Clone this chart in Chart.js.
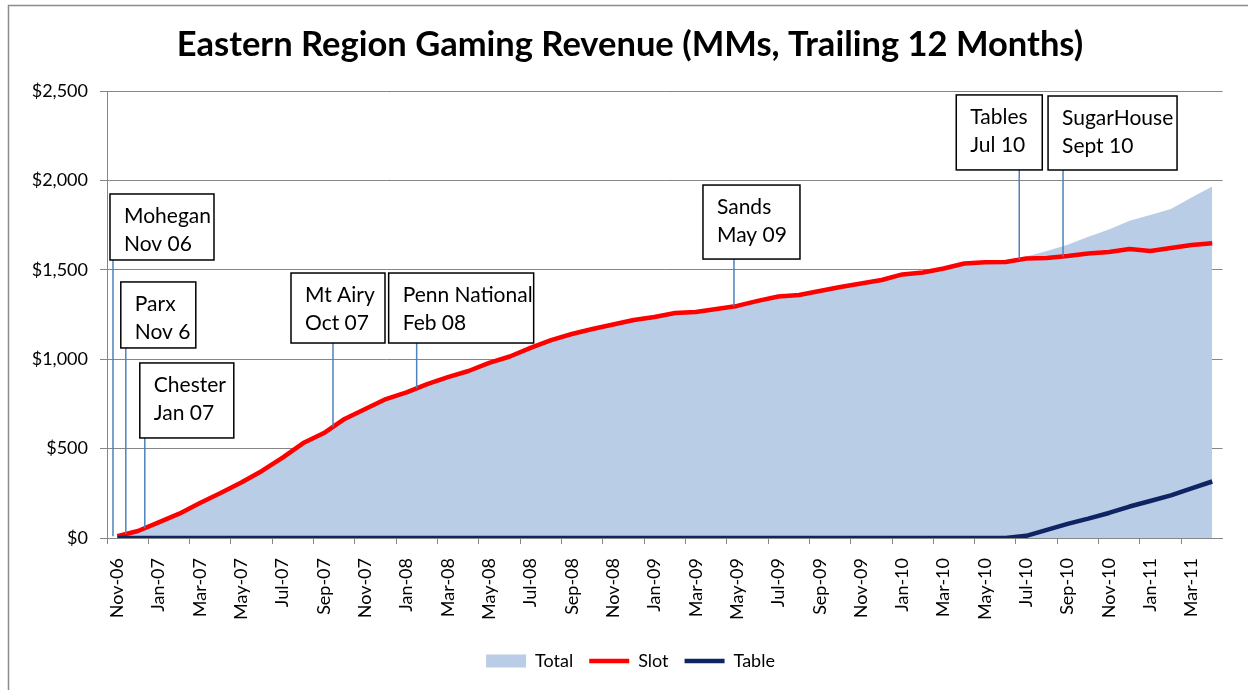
<!DOCTYPE html>
<html>
<head>
<meta charset="utf-8">
<title>Eastern Region Gaming Revenue</title>
<script src="https://cdn.jsdelivr.net/npm/chart.js@4.4.1/dist/chart.umd.min.js"></script>
<style>
  html, body { margin: 0; padding: 0; background: #fff; }
  canvas { display: block; }
</style>
</head>
<body>
<canvas id="chart" width="1248" height="690"></canvas>
<script>
// Eastern region gaming revenue, trailing 12 months ($MM)

const TITLE = 'Eastern Region Gaming Revenue (MMs, Trailing 12 Months)';

const months = [
  'Nov-06', 'Dec-06',
  'Jan-07', 'Feb-07', 'Mar-07', 'Apr-07', 'May-07', 'Jun-07', 'Jul-07', 'Aug-07', 'Sep-07', 'Oct-07', 'Nov-07', 'Dec-07',
  'Jan-08', 'Feb-08', 'Mar-08', 'Apr-08', 'May-08', 'Jun-08', 'Jul-08', 'Aug-08', 'Sep-08', 'Oct-08', 'Nov-08', 'Dec-08',
  'Jan-09', 'Feb-09', 'Mar-09', 'Apr-09', 'May-09', 'Jun-09', 'Jul-09', 'Aug-09', 'Sep-09', 'Oct-09', 'Nov-09', 'Dec-09',
  'Jan-10', 'Feb-10', 'Mar-10', 'Apr-10', 'May-10', 'Jun-10', 'Jul-10', 'Aug-10', 'Sep-10', 'Oct-10', 'Nov-10', 'Dec-10',
  'Jan-11', 'Feb-11', 'Mar-11', 'Apr-11'
];

const slot = [
  10, 39,
  87, 136, 196, 252, 310, 375, 450, 531, 587, 666, 721, 777,
  814, 861, 900, 934, 979, 1015, 1063, 1107, 1141, 1169, 1194, 1219,
  1236, 1258, 1264, 1281, 1298, 1326, 1351, 1359, 1381, 1404, 1423, 1443,
  1474, 1485, 1507, 1535, 1542, 1544, 1563, 1566, 1577, 1591, 1600, 1616,
  1605, 1622, 1639, 1648
];

const table = [
  0, 0,
  0, 0, 0, 0, 0, 0, 0, 0, 0, 0, 0, 0,
  0, 0, 0, 0, 0, 0, 0, 0, 0, 0, 0, 0,
  0, 0, 0, 0, 0, 0, 0, 0, 0, 0, 0, 0,
  0, 0, 0, 0, 0, 0, 12, 45, 79, 108, 140, 176,
  207, 238, 277, 316
];

const total = [
  10, 39,
  87, 136, 196, 252, 310, 375, 450, 531, 587, 666, 721, 777,
  814, 861, 900, 934, 979, 1015, 1063, 1107, 1141, 1169, 1194, 1219,
  1236, 1258, 1264, 1281, 1298, 1326, 1351, 1359, 1381, 1404, 1423, 1443,
  1474, 1485, 1507, 1535, 1542, 1544, 1575, 1605, 1640, 1685, 1726, 1775,
  1806, 1840, 1905, 1966
];

// Openings: position on the month axis, box top in $MM
const openings = [
  { text: ['Mohegan', 'Nov 06'], at: -0.21, top: 1924, dx: -3, w: 104, h: 66 },
  { text: ['Parx', 'Nov 6'], at: 0.41, top: 1432, dx: -5, w: 75, h: 66 },
  { text: ['Chester', 'Jan 07'], at: 1.33, top: 979, dx: -5, w: 94, h: 75 },
  { text: ['Mt Airy', 'Oct 07'], at: 10.44, top: 1482, dx: -42, w: 94, h: 70 },
  { text: ['Penn National', 'Feb 08'], at: 14.49, top: 1482, dx: -28, w: 145, h: 70 },
  { text: ['Sands', 'May 09'], at: 29.85, top: 1974, dx: -31, w: 97, h: 74 },
  { text: ['Tables', 'Jul 10'], at: 43.66, top: 2478, dx: -63, w: 86, h: 75 },
  { text: ['SugarHouse', 'Sept 10'], at: 45.78, top: 2472, dx: -15, w: 129, h: 74 }
];

const FONT = 'Lato, "Open Sans", sans-serif';
const GRID = '#868686';

function slotAt(pos) {
  const i = Math.max(0, Math.min(slot.length - 1, pos));
  const lo = Math.floor(i);
  const hi = Math.min(slot.length - 1, lo + 1);
  return slot[lo] + (slot[hi] - slot[lo]) * (i - lo);
}

// Outer frame and title, placed like the spreadsheet chart
const framePlugin = {
  id: 'frame',
  beforeDraw(chart) {
    const ctx = chart.ctx;
    ctx.save();
    ctx.fillStyle = '#fff';
    ctx.fillRect(0, 0, chart.width, chart.height);
    ctx.strokeStyle = '#8c8c8c';
    ctx.lineWidth = 1.5;
    ctx.strokeRect(8.5, 5.5, chart.width + 20, chart.height + 20);
    ctx.fillStyle = '#000';
    ctx.font = 'bold 34.5px ' + FONT;
    ctx.textAlign = 'center';
    ctx.textBaseline = 'middle';
    ctx.fillText(TITLE, 630, 45);
    ctx.restore();
  },
  afterLayout(chart) {
    // legend sits centred under the whole frame, not the padded box
    chart.legend.left += 17;
    chart.legend.right += 17;
  }
};

// Callout boxes with leader lines down to the slot line
const calloutPlugin = {
  id: 'callouts',
  afterDatasetsDraw(chart) {
    const ctx = chart.ctx;
    const x = chart.scales.x;
    const y = chart.scales.y;
    ctx.save();
    openings.forEach(o => {
      const px = x.getPixelForValue(o.at);
      const boxTop = y.getPixelForValue(o.top);
      const boxLeft = px + o.dx;
      const endY = y.getPixelForValue(slotAt(o.at));

      ctx.strokeStyle = '#4f81bd';
      ctx.lineWidth = 1.5;
      ctx.beginPath();
      ctx.moveTo(px, boxTop + o.h);
      ctx.lineTo(px, endY);
      ctx.stroke();

      ctx.fillStyle = '#fff';
      ctx.fillRect(boxLeft, boxTop, o.w, o.h);
      ctx.strokeStyle = '#000';
      ctx.lineWidth = 1.5;
      ctx.strokeRect(boxLeft, boxTop, o.w, o.h);

      ctx.fillStyle = '#000';
      ctx.font = '21px ' + FONT;
      ctx.textAlign = 'left';
      ctx.textBaseline = 'middle';
      o.text.forEach((line, k) => {
        ctx.fillText(line, boxLeft + 14, boxTop + 22 + k * 28);
      });
    });
    ctx.restore();
  }
};

Chart.defaults.font.family = FONT;
Chart.defaults.color = '#000';

new Chart(document.getElementById('chart'), {
  type: 'line',
  data: {
    labels: months,
    datasets: [
      {
        label: 'Total',
        data: total,
        fill: 'origin',
        backgroundColor: '#bacde6',
        borderColor: '#bacde6',
        borderWidth: 0,
        pointRadius: 0,
        pointStyle: 'rect',
        tension: 0,
        order: 3
      },
      {
        label: 'Slot',
        data: slot,
        fill: false,
        borderColor: '#ff0000',
        backgroundColor: '#ff0000',
        borderWidth: 4.5,
        borderJoinStyle: 'round',
        pointRadius: 0,
        pointStyle: 'line',
        tension: 0,
        order: 2
      },
      {
        label: 'Table',
        data: table,
        fill: false,
        borderColor: '#0f2462',
        backgroundColor: '#0f2462',
        borderWidth: 4.5,
        borderJoinStyle: 'round',
        pointRadius: 0,
        pointStyle: 'line',
        tension: 0,
        order: 1
      }
    ]
  },
  options: {
    responsive: false,
    animation: false,
    layout: { padding: { left: 0, right: 21, top: 91, bottom: 10 } },
    plugins: {
      title: { display: false },
      legend: {
        position: 'bottom',
        labels: {
          usePointStyle: true,
          pointStyleWidth: 40,
          boxHeight: 13,
          padding: 16,
          color: '#000',
          font: { size: 18 },
          sort: (a, b) => a.datasetIndex - b.datasetIndex
        }
      },
      tooltip: { enabled: false }
    },
    scales: {
      x: {
        offset: true,
        afterFit(scale) { scale.height = 98; },
        border: { color: GRID, width: 1 },
        grid: {
          offset: true,
          drawOnChartArea: false,
          drawTicks: true,
          tickLength: 6,
          color: ctx => (ctx.index % 2 === 0 ? GRID : 'rgba(0,0,0,0)')
        },
        ticks: {
          autoSkip: false,
          minRotation: 90,
          maxRotation: 90,
          padding: 14,
          font: { size: 18 },
          callback: (val, i) => (i % 2 === 0 ? months[i] : '')
        }
      },
      y: {
        min: 0,
        max: 2500,
        afterFit(scale) { scale.width = 107; },
        border: { color: GRID, width: 1 },
        grid: { color: GRID, lineWidth: 1, tickLength: 7 },
        ticks: {
          stepSize: 500,
          padding: 12,
          font: { size: 18 },
          callback: v => '$' + v.toLocaleString('en-US')
        }
      }
    }
  },
  plugins: [framePlugin, calloutPlugin]
});
</script>
</body>
</html>
